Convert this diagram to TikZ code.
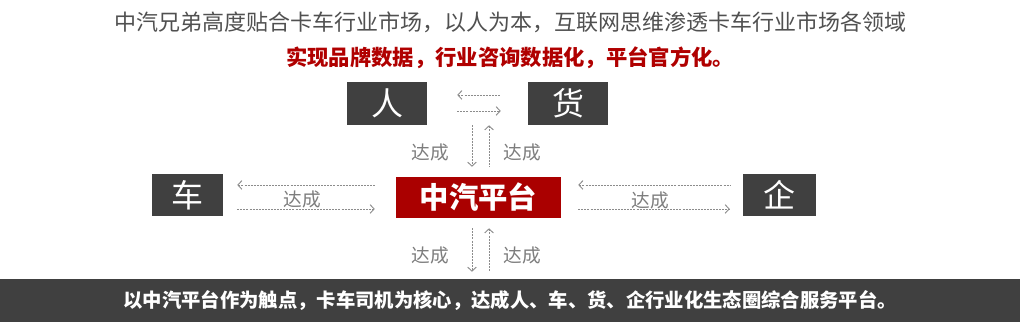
\documentclass[tikz,border=0pt]{standalone}
\usepackage{fontspec}
\setmainfont{Noto Sans CJK SC}
\usepackage{tikz}
\usetikzlibrary{arrows.meta,positioning}
\definecolor{BoxGray}{RGB}{64,64,64}
\definecolor{HubRed}{RGB}{170,0,0}
\definecolor{TitleRed}{RGB}{176,0,0}
\definecolor{TitleGray}{RGB}{80,80,80}
\definecolor{LinkGray}{RGB}{140,140,140}
\definecolor{LabelGray}{RGB}{125,125,125}

\begin{document}
\begin{tikzpicture}[x=0.75pt,y=-0.75pt,>={Straight Barb[length=3pt,width=6.5pt]},
    box/.style={fill=BoxGray,text=white,inner sep=0pt,minimum width=60pt,minimum height=32.25pt,font=\fontsize{24}{25}\selectfont},
    link/.style={LinkGray,line width=0.7pt,dash pattern=on 1.5pt off 0.8pt},
    lbl/.style={text=LabelGray,inner sep=0pt,font=\fontsize{14}{15}\selectfont}]
  \useasboundingbox (0,0) rectangle (1020,322);
  % titles
  \node[text=TitleGray,font=\fontsize{16.5}{18}\selectfont] (head) at (510,22) {中汽兄弟高度贴合卡车行业市场，以人为本，互联网思维渗透卡车行业市场各领域};
  \node[text=TitleRed,font=\bfseries\fontsize{16}{18}\selectfont] (sub) at (510,58) {实现品牌数据，行业咨询数据化，平台官方化。};
  % boxes
  \node[box] (ren) at (387,103.5) {人};
  \node[box] (huo) at (568,103.5) {货};
  \node[box,minimum width=53.25pt,minimum height=31.5pt] (che) at (187.5,195) {车};
  \node[box,minimum width=54.75pt,minimum height=31.5pt] (qi) at (779.5,195) {企};
  \node[box,fill=HubRed,minimum width=123.75pt,minimum height=30.75pt,font=\bfseries\fontsize{22}{24}\selectfont] (hub) at (478.5,197.5) {中汽平台};
  \node[fill=BoxGray,text=white,inner sep=0pt,minimum width=765pt,minimum height=32.25pt,font=\bfseries\fontsize{14.5}{17}\selectfont] (bar) at (510,300.5) {以中汽平台作为触点，卡车司机为核心，达成人、车、货、企行业化生态圈综合服务平台。};
  % links
  \draw[link,<-,shorten <=22.5pt,shorten >=20.25pt] ([yshift=6.4pt]ren.east) -- ([yshift=6.4pt]ren.east -| huo.west);
  \draw[link,->,shorten <=22.5pt,shorten >=20.25pt] ([yshift=-5.6pt]ren.east) -- ([yshift=-5.6pt]ren.east -| huo.west);
  \coordinate (dn1) at ([xshift=-4.9pt,yshift=7.5pt]hub.north);
  \coordinate (up1) at ([xshift=7.9pt,yshift=7.5pt]hub.north);
  \coordinate (dn2) at ([xshift=-4.9pt,yshift=-7.5pt]hub.south);
  \coordinate (up2) at ([xshift=7.9pt,yshift=-7.5pt]hub.south);
  \draw[link,->] (ren.south -| dn1) -- (dn1);
  \draw[link,<-] (ren.south -| up1) -- (up1);
  \draw[link,->] (dn2) -- ([yshift=5.25pt]bar.north -| dn2);
  \draw[link,<-] (up2) -- ([yshift=5.25pt]bar.north -| up2);
  \draw[link,<-,shorten <=10.5pt,shorten >=15.75pt] ([yshift=9.4pt]hub.west -| che.east) -- ([yshift=9.4pt]hub.west);
  \draw[link,->,shorten <=10.5pt,shorten >=15.75pt] ([yshift=-8.6pt]hub.west -| che.east) -- ([yshift=-8.6pt]hub.west);
  \draw[link,<-,shorten <=12.75pt,shorten >=9.75pt] ([yshift=9.4pt]hub.east) -- ([yshift=9.4pt]hub.east -| qi.west);
  \draw[link,->,shorten <=12.75pt,shorten >=9.75pt] ([yshift=-8.6pt]hub.east) -- ([yshift=-8.6pt]hub.east -| qi.west);
  % labels
  \node[lbl] (l1) at (430,152) {达成};
  \node[lbl] (l2) at (522,152) {达成};
  \node[lbl] (l3) at (302,199) {达成};
  \node[lbl] (l4) at (650,200) {达成};
  \node[lbl] (l5) at (430,255) {达成};
  \node[lbl] (l6) at (522,255) {达成};
\end{tikzpicture}
\end{document}
